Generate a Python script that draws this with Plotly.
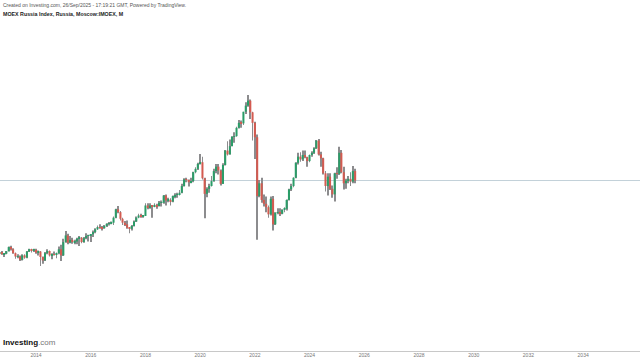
import plotly.graph_objects as go

# Monthly IMOEX candles, Jun 2012 .. Sep 2025
months = [f"{y}-{m:02d}-01" for y in range(2012, 2026) for m in range(1, 13)]
months = months[5:]  # start Jun 2012
months = months[: months.index("2025-09-01") + 1]

opens = [
    1360, 1410, 1420, 1440, 1460, 1420, 1430,
    1475, 1550, 1510, 1440, 1380, 1380, 1320, 1400, 1360, 1470, 1510, 1480,
    1500, 1450, 1470, 1370, 1310, 1440, 1480, 1400, 1420, 1410, 1440, 1510,
    1400, 1640, 1760, 1630, 1680, 1640, 1650, 1700, 1720, 1640, 1710, 1750,
    1760, 1780, 1820, 1870, 1910, 1900, 1890, 1930, 1970, 1980, 1990, 2080,
    2230, 2180, 2060, 1990, 1960, 1900, 1880, 1930, 2010, 2080, 2120, 2110,
    2110, 2300, 2270, 2300, 2290, 2310, 2290, 2350, 2350, 2480, 2390, 2400,
    2370, 2470, 2490, 2500, 2530, 2650, 2770, 2760, 2720, 2740, 2900, 2960,
    3050, 3080, 2790, 2510, 2600, 2650, 2740, 2920, 3000, 2930, 2690, 3030,
    3290, 3220, 3370, 3540, 3550, 3700, 3790, 3780, 3990, 4100, 4190, 3980,
    3790, 3530, 2470, 2700, 2400, 2330, 2270, 2140, 2420, 1960, 2170, 2180,
    2150, 2220, 2240, 2400, 2590, 2650, 2800, 3070, 3180, 3130, 3210, 3170,
    3100, 3210, 3250, 3330, 3470, 3220, 3150, 2880, 2650, 2820, 2600, 2500,
    2880, 2870, 3250, 2900, 2700, 2750, 2780, 2730, 2920,
]
highs = [
    1420, 1450, 1460, 1510, 1480, 1440, 1480,
    1560, 1575, 1530, 1450, 1420, 1400, 1420, 1420, 1480, 1520, 1520, 1520,
    1520, 1490, 1480, 1380, 1460, 1510, 1490, 1440, 1470, 1450, 1560, 1590,
    1700, 1840, 1790, 1750, 1720, 1680, 1720, 1750, 1730, 1730, 1800, 1770,
    1780, 1850, 1890, 1940, 1960, 1930, 1950, 1980, 2000, 2010, 2100, 2240,
    2290, 2200, 2080, 2020, 2030, 1910, 1950, 2030, 2100, 2150, 2150, 2130,
    2340, 2340, 2340, 2310, 2340, 2330, 2380, 2390, 2490, 2500, 2440, 2430,
    2480, 2520, 2530, 2580, 2690, 2790, 2800, 2770, 2800, 2910, 2990, 3070,
    3230, 3180, 2800, 2630, 2690, 2830, 2960, 3050, 3050, 2950, 3060, 3300,
    3460, 3490, 3550, 3620, 3720, 3840, 3830, 3990, 4160, 4292, 4210, 3990,
    3810, 3580, 2760, 2800, 2500, 2460, 2300, 2460, 2470, 2180, 2250, 2250,
    2230, 2270, 2410, 2600, 2690, 2810, 3080, 3250, 3260, 3290, 3290, 3180,
    3220, 3280, 3350, 3480, 3500, 3270, 3160, 2920, 2880, 2880, 2660, 2890,
    2990, 3360, 3300, 3000, 2780, 2830, 2900, 3010, 2960,
]
lows = [
    1310, 1370, 1400, 1420, 1410, 1370, 1420,
    1470, 1490, 1430, 1340, 1350, 1300, 1310, 1340, 1350, 1460, 1450, 1460,
    1430, 1400, 1210, 1250, 1300, 1420, 1380, 1330, 1400, 1350, 1420, 1300,
    1390, 1630, 1600, 1620, 1610, 1600, 1600, 1570, 1620, 1630, 1690, 1650,
    1640, 1730, 1800, 1860, 1880, 1850, 1880, 1910, 1940, 1960, 1950, 2070,
    2160, 2030, 1950, 1930, 1880, 1800, 1850, 1920, 2000, 2070, 2080, 2080,
    2110, 2230, 2240, 2080, 2270, 2240, 2280, 2280, 2330, 2300, 2360, 2300,
    2360, 2430, 2440, 2480, 2520, 2640, 2720, 2640, 2700, 2720, 2880, 2940,
    3040, 2770, 2070, 2450, 2530, 2640, 2730, 2880, 2860, 2660, 2690, 3020,
    3200, 3220, 3370, 3430, 3540, 3690, 3700, 3750, 3950, 4080, 3860, 3470,
    3140, 1681, 2450, 2350, 2280, 2180, 2080, 2120, 1850, 1950, 2140, 2110,
    2140, 2180, 2210, 2390, 2560, 2630, 2790, 3040, 3090, 3100, 3150, 3000,
    3080, 3180, 3230, 3320, 3200, 3000, 2860, 2550, 2480, 2580, 2440, 2370,
    2780, 2850, 2880, 2590, 2600, 2700, 2650, 2700, 2700,
]
closes = [
    1410, 1420, 1440, 1460, 1420, 1430, 1475,
    1550, 1510, 1440, 1380, 1380, 1320, 1400, 1360, 1470, 1510, 1480, 1500,
    1450, 1470, 1370, 1310, 1440, 1480, 1400, 1420, 1410, 1440, 1510, 1400,
    1640, 1760, 1630, 1680, 1640, 1650, 1700, 1720, 1640, 1710, 1750, 1760,
    1780, 1820, 1870, 1910, 1900, 1890, 1930, 1970, 1980, 1990, 2080, 2230,
    2180, 2060, 1990, 1960, 1900, 1880, 1930, 2010, 2080, 2120, 2110, 2110,
    2300, 2270, 2300, 2290, 2310, 2290, 2350, 2350, 2480, 2390, 2400, 2370,
    2470, 2490, 2500, 2530, 2650, 2770, 2760, 2720, 2740, 2900, 2960, 3050,
    3080, 2790, 2510, 2600, 2650, 2740, 2920, 3000, 2930, 2690, 3030, 3290,
    3220, 3370, 3540, 3550, 3700, 3790, 3780, 3990, 4100, 4190, 3980, 3790,
    3530, 2470, 2700, 2400, 2330, 2270, 2140, 2420, 1960, 2170, 2180, 2150,
    2220, 2240, 2400, 2590, 2650, 2800, 3070, 3180, 3130, 3210, 3170, 3100,
    3210, 3250, 3330, 3470, 3220, 3150, 2880, 2650, 2820, 2600, 2500, 2880,
    2870, 3250, 2900, 2700, 2750, 2780, 2730, 2920, 2750,
]

tick_years = ["2014", "2016", "2018", "2020", "2022", "2024", "2026", "2028", "2030", "2032", "2034", "2036"]

UP = "#2a9d68"
DOWN = "#d45a50"
WICK = "#8c8c8e"
DAY_MS = 86400000

n = min(len(months), len(opens), len(highs), len(lows), len(closes))
months, opens, highs, lows, closes = months[:n], opens[:n], highs[:n], lows[:n], closes[:n]

wick_len = [h - l for h, l in zip(highs, lows)]
body_base = [min(o, c) for o, c in zip(opens, closes)]
body_len = [max(abs(c - o), 8) for o, c in zip(opens, closes)]
body_col = [UP if c >= o else DOWN for o, c in zip(opens, closes)]

fig = go.Figure()
# wicks (high-low)
fig.add_trace(go.Bar(
    x=months, y=wick_len, base=lows,
    width=11 * DAY_MS,
    marker=dict(color=WICK, line=dict(width=0)),
    hoverinfo="skip", showlegend=False,
))
# bodies (open-close)
fig.add_trace(go.Bar(
    x=months, y=body_len, base=body_base,
    width=27 * DAY_MS,
    marker=dict(color=body_col, line=dict(width=0)),
    hoverinfo="skip", showlegend=False,
))

fig.add_shape(type="line", xref="paper", yref="y", x0=0, x1=1,
              y0=closes[-1], y1=closes[-1],
              line=dict(color="#c3d1d9", width=1), layer="below")

fig.add_annotation(
    text="Created on Investing.com, 26/Sep/2025 - 17:19:21 GMT, Powered by TradingView.",
    xref="paper", yref="paper", x=1 / 640, y=1 - 5 / 351,
    xanchor="left", yanchor="middle", showarrow=False,
    font=dict(family="Liberation Sans, Arial", size=5, color="#555555"),
)
fig.add_annotation(
    text="<b>MOEX Russia Index, Russia, Moscow:IMOEX, M</b>",
    xref="paper", yref="paper", x=1 / 640, y=1 - 14 / 351,
    xanchor="left", yanchor="middle", showarrow=False,
    font=dict(family="Liberation Sans, Arial", size=5.3, color="#222222"),
)
fig.add_annotation(
    text="<b>Investing</b><span style='color:#777777'>.com</span>",
    xref="paper", yref="paper", x=1 / 640, y=1 - 342 / 351,
    xanchor="left", yanchor="middle", showarrow=False,
    font=dict(family="Liberation Sans, Arial", size=8, color="#111111"),
)

fig.update_layout(
    width=640, height=360,
    margin=dict(l=0, r=0, t=0, b=9),
    paper_bgcolor="white", plot_bgcolor="white",
    barmode="overlay",
    xaxis=dict(
        type="date",
        range=["2012-09-07", "2036-01-30"],
        tickmode="array",
        tickvals=[f"{y}-01-01" for y in tick_years],
        ticktext=tick_years,
        ticks="", ticklen=0,
        ticklabelstandoff=-1,
        showline=True, linecolor="#c8c8c8", linewidth=1,
        showgrid=False, zeroline=False,
        tickfont=dict(family="Liberation Sans, Arial", size=5, color="#777777"),
    ),
    yaxis=dict(range=[-324, 6005], visible=False, showgrid=False, zeroline=False),
)

fig.write_html("out.html")
